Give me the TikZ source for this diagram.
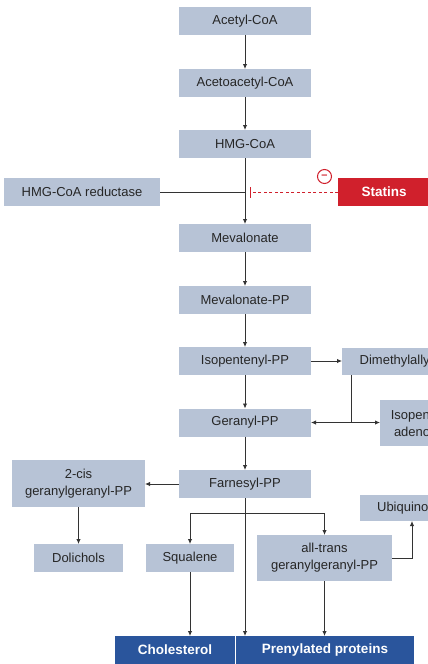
\documentclass[tikz,border=0pt]{standalone}
\usepackage{fontspec}
\setmainfont{Liberation Sans}
\usetikzlibrary{arrows.meta}
\definecolor{boxfill}{HTML}{B7C3D6}
\definecolor{darkblue}{HTML}{2A559C}
\definecolor{statred}{HTML}{D0202C}
\definecolor{linegray}{HTML}{333333}
\tikzset{
  stepbox/.style={fill=boxfill, inner sep=0pt, outer sep=0pt, align=center,
    font=\fontsize{13}{17}\selectfont, text=black!85},
  endbox/.style={fill=darkblue, inner sep=0pt, outer sep=0pt,
    font=\fontsize{13.5}{16}\selectfont\bfseries, text=white},
  redbox/.style={fill=statred, inner sep=0pt, outer sep=0pt,
    font=\fontsize{13.5}{16}\selectfont\bfseries, text=white},
  conn/.style={draw=linegray, line width=0.9pt},
  arr/.style={conn, -{Latex[length=5pt,width=4.5pt]}},
}
\begin{document}
\begin{tikzpicture}[x=1pt,y=-1pt]
\useasboundingbox (0,0) rectangle (428,664);
\clip (0,0) rectangle (428,664);
% nodes
\node[stepbox, minimum width=132, minimum height=28] (acetyl) at (245,21) {Acetyl-CoA};
\node[stepbox, minimum width=132, minimum height=28] (acetoac) at (245,83) {Acetoacetyl-CoA};
\node[stepbox, minimum width=132, minimum height=28] (hmg) at (245,144) {HMG-CoA};
\node[stepbox, minimum width=156, minimum height=28] (reduct) at (82,192) {HMG-CoA reductase};
\node[redbox, minimum width=92, minimum height=28] (statins) at (384,192) {Statins};
\node[circle, draw=statred, line width=1pt, inner sep=0pt, minimum size=14, text=statred,
  font=\fontsize{11}{11}\selectfont\bfseries] (minus) at (324.5,176.5) {\raisebox{0.5pt}{--}};
\node[stepbox, minimum width=132, minimum height=28] (meva) at (245,238) {Mevalonate};
\node[stepbox, minimum width=132, minimum height=28] (mevapp) at (245,300) {Mevalonate-PP};
\node[stepbox, minimum width=130, minimum height=27] (dmapp) at (407,361.5) {Dimethylallyl-PP};
\node[stepbox, minimum width=132, minimum height=28] (ipp) at (245,361) {Isopentenyl-PP};
\node[stepbox, minimum width=132, minimum height=28] (geranyl) at (245,422.5) {Geranyl-PP};
\node[stepbox, minimum width=88, minimum height=46] (isoad) at (424,423) {Isopentenyl\\adenosine};
\node[stepbox, minimum width=132, minimum height=28] (farnesyl) at (245,484) {Farnesyl-PP};
\node[stepbox, minimum width=133, minimum height=47] (cis) at (78.5,483.5) {2-cis\\geranylgeranyl-PP};
\node[stepbox, minimum width=89, minimum height=28] (dolichols) at (78.5,558) {Dolichols};
\node[stepbox, minimum width=88, minimum height=28] (squalene) at (190,558) {Squalene};
\node[stepbox, minimum width=135, minimum height=46] (alltrans) at (324.5,558) {all-trans\\geranylgeranyl-PP};
\node[stepbox, minimum width=100, minimum height=26] (ubiq) at (410,508) {Ubiquinone};
\node[endbox, minimum width=120, minimum height=28] (chol) at (175,650) {Cholesterol};
\node[endbox, minimum width=178, minimum height=28] (prenyl) at (325,650) {Prenylated proteins};
% coordinates
\coordinate (j1) at (245,192);
\coordinate (inh) at (250,192);
\coordinate (j2) at (351,422.5);
\coordinate (j3) at (245,513);
% connectors
\draw[arr] (acetyl) -- (acetoac);
\draw[arr] (acetoac) -- (hmg);
\draw[arr] (hmg) -- (meva);
\draw[conn] (reduct.east) -- (j1);
\draw[statred, line width=0.9pt, dash pattern=on 3pt off 2.5pt] (statins.west) -- (inh);
\draw[statred, line width=0.9pt] ([yshift=-5.5]inh) -- ([yshift=5.5]inh);
\draw[arr] (meva) -- (mevapp);
\draw[arr] (mevapp) -- (ipp);
\draw[arr] (ipp) -- (geranyl);
\draw[arr] (ipp.east) -- (dmapp.west |- ipp.east);
\draw[conn] (dmapp.south -| j2) -- (j2);
\draw[arr] (j2) -- (geranyl.east |- j2);
\draw[arr] (j2) -- (isoad.west |- j2);
\draw[arr] (geranyl) -- (farnesyl);
\draw[arr] (farnesyl.west) -- (cis.east |- farnesyl.west);
\draw[arr] (cis) -- (dolichols);
\draw[arr] (farnesyl.south) -- (farnesyl.south |- prenyl.north);
\draw[arr] (j3) -| (squalene.north);
\draw[arr] (j3) -| (alltrans.north);
\draw[arr] (squalene.south) -- (squalene.south |- chol.north);
\draw[arr] (alltrans.south) -- (alltrans.south |- prenyl.north);
\draw[arr] (alltrans.east) -| ([xshift=2]ubiq.south);
\end{tikzpicture}
\end{document}
